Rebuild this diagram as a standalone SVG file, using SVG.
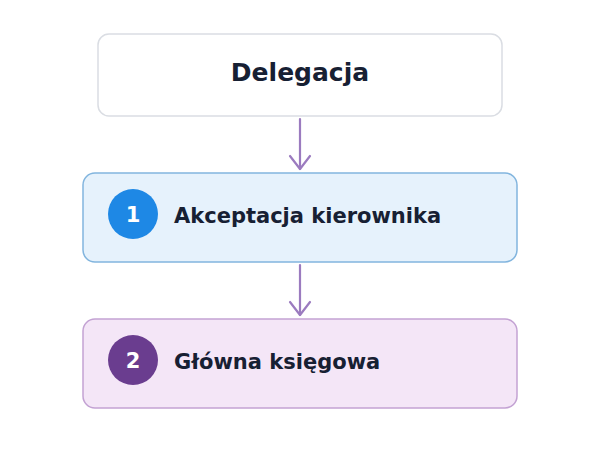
<svg xmlns="http://www.w3.org/2000/svg" width="600" height="450" viewBox="0 0 600 450">
<defs>
<style>
.lbl{font-family:"DejaVu Sans",sans-serif;font-weight:bold;fill:#172033}
.num{font-family:"DejaVu Sans",sans-serif;font-weight:bold;fill:#ffffff;font-size:21px;text-anchor:middle}
.conn{stroke:#9b7bbf;stroke-width:2.2;fill:none;stroke-linecap:round;stroke-linejoin:round}
.box{stroke-width:1.5}
</style>
</defs>
<rect width="600" height="450" fill="#ffffff"/>
<g id="connectors">
<path class="conn" d="M300,119 V169"/>
<path class="conn" d="M290,156 L300,169 L310,156"/>
<path class="conn" d="M300,265 V315"/>
<path class="conn" d="M290,302 L300,315 L310,302"/>
</g>
<g id="node-delegacja">
<rect class="box" x="98" y="34" width="404" height="82" rx="11" fill="#ffffff" stroke="#dadde3"/>
<text class="lbl" x="300" y="81" font-size="25" text-anchor="middle">Delegacja</text>
</g>
<g id="node-akceptacja">
<rect class="box" x="83" y="173" width="434" height="89" rx="12" fill="#e6f2fc" stroke="#82b5de"/>
<circle cx="133" cy="214" r="25" fill="#1e88e5"/>
<text class="num" x="133" y="222">1</text>
<text class="lbl" x="174" y="223" font-size="21">Akceptacja kierownika</text>
</g>
<g id="node-glowna">
<rect class="box" x="83" y="319" width="434" height="89" rx="12" fill="#f4e6f7" stroke="#c3a2d3"/>
<circle cx="133" cy="360" r="25" fill="#6a3d8f"/>
<text class="num" x="133" y="368">2</text>
<text class="lbl" x="174" y="369" font-size="21">Główna księgowa</text>
</g>
</svg>
